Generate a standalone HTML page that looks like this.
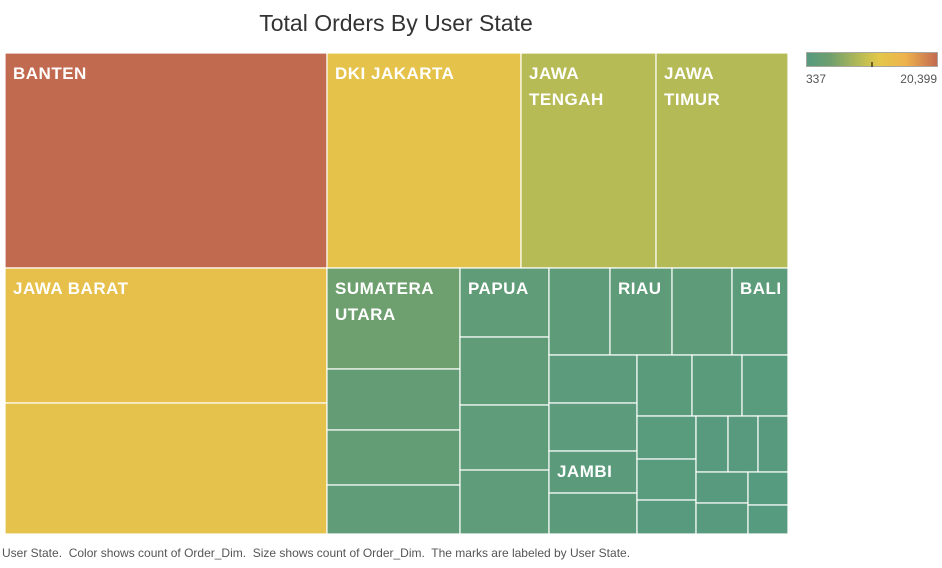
<!DOCTYPE html>
<html><head><meta charset="utf-8"><style>
body{margin:0;background:#fff;width:942px;height:563px;overflow:hidden;font-family:"Liberation Sans",sans-serif}
</style></head><body>
<svg id="c" width="942" height="563" xmlns="http://www.w3.org/2000/svg">
<defs><linearGradient id="lg" x1="0" x2="1" y1="0" y2="0">
<stop offset="0" stop-color="#569a7f"/><stop offset="0.18" stop-color="#6e9f6e"/><stop offset="0.41" stop-color="#b7bb55"/><stop offset="0.55" stop-color="#e2c84a"/><stop offset="0.75" stop-color="#efb34c"/><stop offset="1" stop-color="#c26a4f"/></linearGradient></defs>
<text x="396" y="31" text-anchor="middle" font-size="23" fill="#333">Total Orders By User State</text>
<g id="cells"></g>
<g>
<rect x="806.5" y="52.5" width="131" height="14" fill="url(#lg)" stroke="#a8a8a0"/>
<line x1="872" x2="872" y1="62" y2="67" stroke="#000"/>
<text x="806" y="83" font-size="12" fill="#555">337</text>
<text x="937" y="83" font-size="12" fill="#555" text-anchor="end">20,399</text>
</g>
<text x="2" y="557" font-size="12" fill="#555" xml:space="preserve" style="white-space:pre">User State.  Color shows count of Order_Dim.  Size shows count of Order_Dim.  The marks are labeled by User State.</text>
</svg>
<script>
const states=["BANTEN","DKI JAKARTA","JAWA TENGAH","JAWA TIMUR","JAWA BARAT","","SUMATERA UTARA","","","","PAPUA","","","","","RIAU","","BALI","","","JAMBI","","","","","","","","","","","","","",""];
const orders=[20399,12290,8553,8362,12809,12430,3958,2391,2156,1920,1810,1783,1705,1678,1564,1590,1538,1436,1245,1245,1089,1063,989,899,827,748,713,591,528,495,495,475,475,389,342];
const labelLines={"JAWA TENGAH":["JAWA","TENGAH"],"JAWA TIMUR":["JAWA","TIMUR"],"SUMATERA UTARA":["SUMATERA","UTARA"]};
const tree={d:"v",c:[
 {d:"h",c:[0,1,2,3]},
 {d:"h",c:[
  {d:"v",c:[4,5]},
  {d:"h",c:[
   {d:"v",c:[6,7,8,9]},
   {d:"v",c:[10,11,12,13]},
   {d:"v",c:[
    {d:"h",c:[14,15,16,17]},
    {d:"h",c:[
     {d:"v",c:[18,19,20,21]},
     {d:"v",c:[
      {d:"h",c:[22,23,24]},
      {d:"h",c:[
       {d:"v",c:[25,26,27]},
       {d:"v",c:[
        {d:"h",c:[28,29,30]},
        {d:"h",c:[{d:"v",c:[31,32]},{d:"v",c:[33,34]}]}
       ]}
      ]}
     ]}
    ]}
   ]}
  ]}
 ]}
]};
const vmin=337,vmax=20399;
const stops=[[0,[86,154,127]],[0.18,[110,159,110]],[0.41,[183,187,85]],[0.55,[226,200,74]],[0.75,[239,179,76]],[1,[194,106,79]]];
function color(v){const t=Math.max(0,Math.min(1,(v-vmin)/(vmax-vmin)));
 for(let i=1;i<stops.length;i++){if(t<=stops[i][0]){const a=stops[i-1],b=stops[i],f=(t-a[0])/(b[0]-a[0]);
 return "rgb("+a[1].map((x,k)=>Math.round(x+(b[1][k]-x)*f)).join(",")+")";}}return "rgb(194,106,79)";}
function sum(n){return typeof n==="number"?orders[n]:n.c.reduce((s,x)=>s+sum(x),0);}
const g=document.getElementById("cells");const NS="http://www.w3.org/2000/svg";
function layout(n,x,y,w,h){
 if(typeof n==="number"){draw(n,x,y,w,h);return;}
 const tot=sum(n);let off=0;
 n.c.forEach(ch=>{const f=sum(ch)/tot;
  if(n.d==="h"){layout(ch,x+off,y,w*f,h);off+=w*f;}else{layout(ch,x,y+off,w,h*f);off+=h*f;}});
}
function draw(i,x,y,w,h){
 const r=document.createElementNS(NS,"rect");
 r.setAttribute("x",x);r.setAttribute("y",y);r.setAttribute("width",w);r.setAttribute("height",h);
 r.setAttribute("fill",color(orders[i]));r.setAttribute("stroke","#fff");r.setAttribute("stroke-width","1.2");
 
 
 g.appendChild(r);
 const s=states[i];if(!s)return;
 const lines=labelLines[s]||[s];
 lines.forEach((ln,k)=>{const t=document.createElementNS(NS,"text");
  t.setAttribute("x",x+8);t.setAttribute("y",y+26+k*26);t.setAttribute("fill","#fff");
  t.setAttribute("font-size","17");t.setAttribute("font-weight","bold");t.setAttribute("letter-spacing","0.5");
  t.textContent=ln;
  
  
  g.appendChild(t);});
}
layout(tree,5,53,783,481);
</script>
</body></html>
